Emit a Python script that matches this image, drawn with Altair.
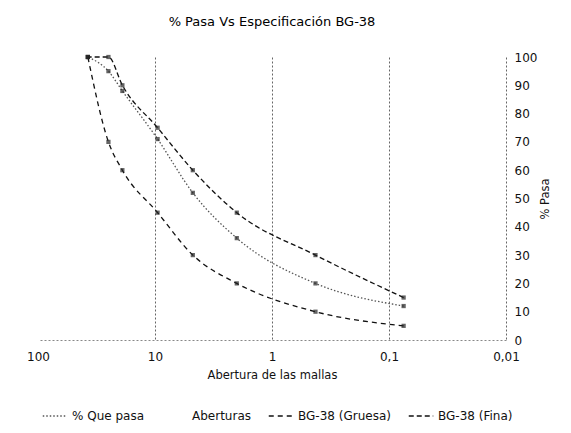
import altair as alt
import pandas as pd

# Sieve openings (mm) and % passing
sizes = [37.5, 25, 19, 9.5, 4.75, 2.0, 0.425, 0.075]
que_pasa = [100, 95, 88, 71, 52, 36, 20, 12]
gruesa = [100, 70, 60, 45, 30, 20, 10, 5]
fina = [100, 100, 90, 75, 60, 45, 30, 15]

series_names = ["% Que pasa", "Aberturas", "BG-38 (Gruesa)", "BG-38 (Fina)"]
x_ticks = [100, 10, 1, 0.1, 0.01]
y_ticks = list(range(0, 101, 10))

rows = []
for name, vals in [("% Que pasa", que_pasa), ("BG-38 (Gruesa)", gruesa), ("BG-38 (Fina)", fina)]:
    for s, v in zip(sizes, vals):
        rows.append({"abertura": s, "pasa": v, "serie": name})
df = pd.DataFrame(rows)

FONT = "DejaVu Sans"

color_scale = alt.Scale(domain=series_names,
                        range=["#555555", "transparent", "#111111", "#111111"])
dash_scale = alt.Scale(domain=series_names,
                       range=[[1.5, 2], [1, 0], [5, 4], [5, 3]])

x_axis = alt.Axis(
    values=x_ticks,
    title="Abertura de las mallas",
    labelExpr="replace(toString(datum.value), '.', ',')",
    ticks=False,
    labelFlush=False,
    labelOverlap=False,
    labelFontSize=12,
    labelPadding=11,
    titlePadding=7,
    grid=True,
    gridColor=alt.condition("datum.value == 100", alt.value("transparent"), alt.value("#666666")),
    gridDash=[2, 2],
    domainColor="#888888",
    domainDash=[2, 2],
)
y_axis = alt.Axis(
    orient="right",
    values=y_ticks,
    tickCount=11,
    title="% Pasa",
    titleAngle=270,
    titlePadding=14,
    ticks=False,
    domain=False,
    grid=False,
    labelOverlap=False,
    labelFlush=False,
    labelFontSize=12,
    labelPadding=8,
)
x_scale = alt.Scale(type="log", domain=[0.01, 100], reverse=True)
y_scale = alt.Scale(domain=[0, 100])

lines = alt.Chart(df).mark_line(interpolate="monotone", strokeWidth=1.3).encode(
    x=alt.X("abertura:Q", scale=x_scale, axis=x_axis),
    y=alt.Y("pasa:Q", scale=y_scale, axis=y_axis),
    color=alt.Color("serie:N", scale=color_scale, title=None),
    strokeDash=alt.StrokeDash("serie:N", scale=dash_scale, title=None),
    order=alt.Order("abertura:Q"),
)

points = alt.Chart(df).mark_point(filled=True, size=18, shape="square").encode(
    x=alt.X("abertura:Q", scale=x_scale, axis=x_axis),
    y=alt.Y("pasa:Q", scale=y_scale, axis=y_axis),
    color=alt.value("#222222"),
)

chart = alt.layer(lines, points).properties(
    width=468,
    height=283,
    title=alt.TitleParams("% Pasa Vs Especificación BG-38", fontSize=13,
                          fontWeight="normal", font=FONT, offset=22, anchor="middle"),
    autosize=alt.AutoSizeParams(type="none"),
    padding={"left": 30, "top": 49, "right": 57, "bottom": 84},
).configure_view(stroke=None).configure_axis(
    labelFont=FONT, titleFont=FONT, titleFontSize=11.5,
    titleFontWeight="normal", labelColor="#111111", titleColor="#111111",
).configure_legend(
    orient="none", legendX=4, legendY=346, direction="horizontal", columns=4,
    symbolType="stroke", symbolSize=600, symbolStrokeWidth=1.4,
    labelFont=FONT, labelFontSize=12, labelColor="#111111",
    columnPadding=14, padding=0, labelOffset=4,
)

chart.save("out.html", embed_options={"renderer": "svg", "actions": False})
